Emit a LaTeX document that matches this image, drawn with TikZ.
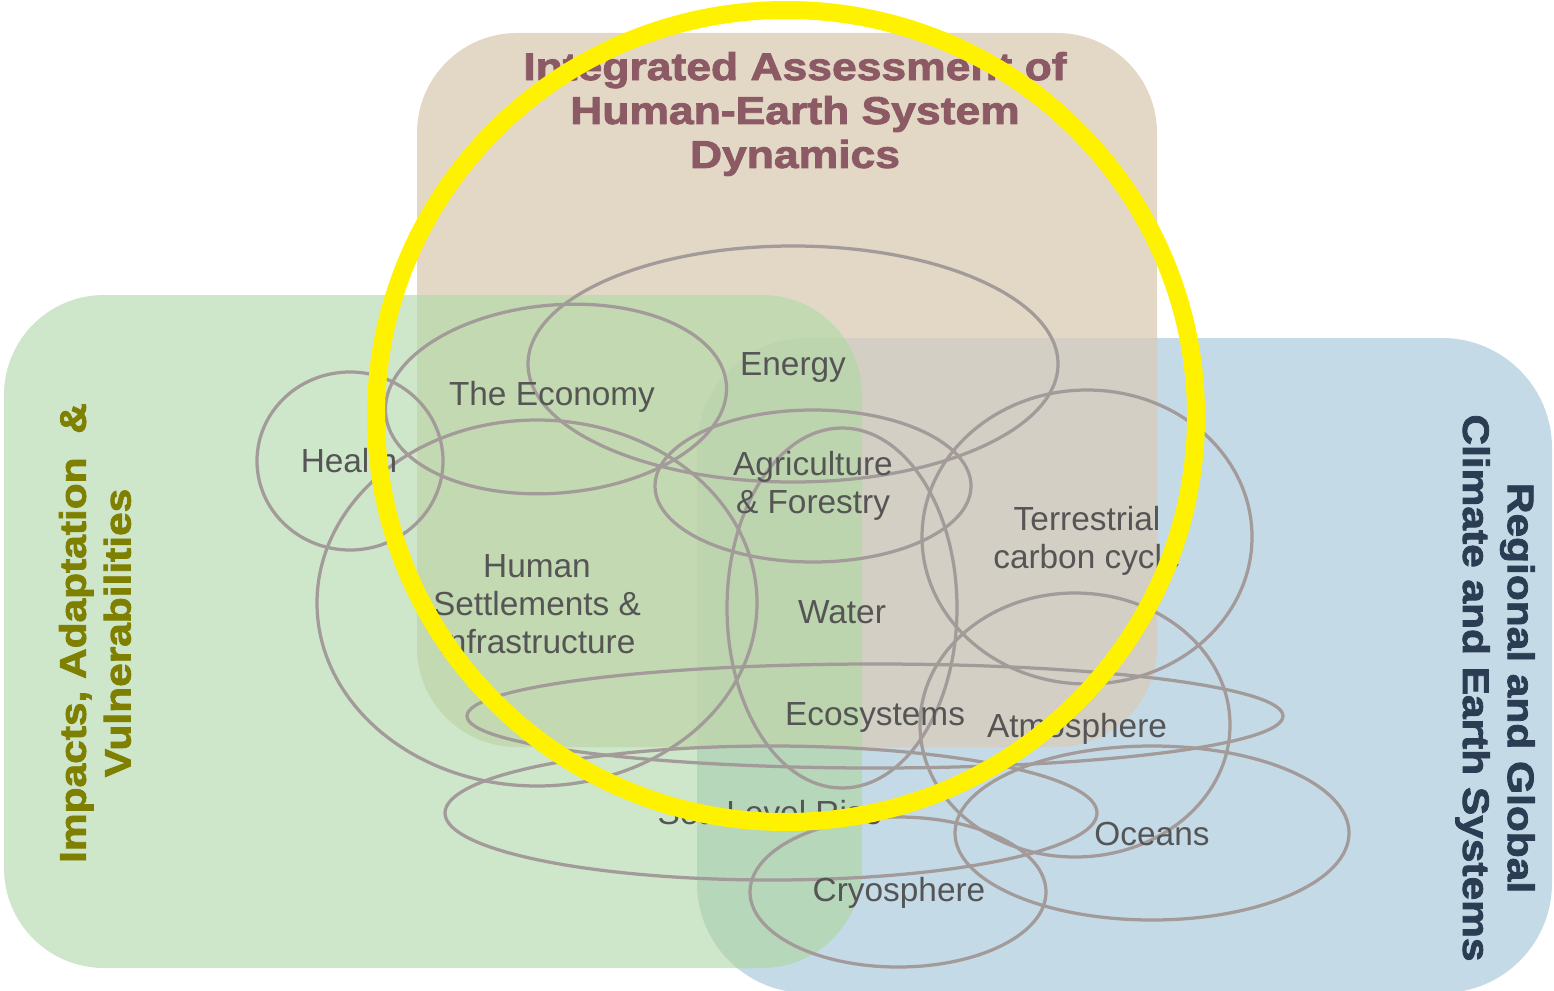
\documentclass[tikz,border=0pt]{standalone}
\usepackage{fontspec}
\setmainfont{Liberation Sans}
\newfontfamily\headfont[FakeStretch=1.15, FakeBold=2.2]{Liberation Sans Bold}
\usetikzlibrary{positioning}
\definecolor{tanbg}{HTML}{E3D7C5}
\definecolor{greenbg}{HTML}{CEE6CA}
\definecolor{bluebg}{HTML}{C4DAE7}
\definecolor{tangreen}{HTML}{C3D9B1}
\definecolor{tanblue}{HTML}{D3CFC4}
\definecolor{greenblue}{HTML}{B6D7BA}
\definecolor{allbg}{HTML}{BDD5AF}
\definecolor{ringgray}{HTML}{A39B99}
\definecolor{labelgray}{HTML}{555555}
\definecolor{iamred}{HTML}{8C5A64}
\definecolor{iavolive}{HTML}{7F7F00}
\definecolor{rgcnavy}{HTML}{2B3D52}
\tikzset{
  ring/.style={draw=ringgray, line width=0.065cm},
  topic/.style={text=labelgray, font=\fontsize{19}{21.6}\selectfont, align=center, inner sep=0pt},
  head/.style={font=\headfont\fontsize{21}{25.5}\selectfont, align=center, inner sep=0pt}
}
\begin{document}
\begin{tikzpicture}[x=0.02cm, y=-0.02cm]
\useasboundingbox (0,0) rectangle (1554,990);
\fill[tanbg, rounded corners=2cm] (417,33) rectangle (1157,747);
\fill[greenbg, rounded corners=2cm] (4,295) rectangle (862,968);
\fill[bluebg, rounded corners=2.2cm] (697,338) rectangle (1552,993);
\begin{scope}
  \clip[rounded corners=2cm] (4,295) rectangle (862,968);
  \fill[greenblue, rounded corners=2.2cm] (697,338) rectangle (1552,993);
\end{scope}
\begin{scope}
  \clip[rounded corners=2cm] (417,33) rectangle (1157,747);
  \fill[tangreen, rounded corners=2cm] (4,295) rectangle (862,968);
  \fill[tanblue, rounded corners=2.2cm] (697,338) rectangle (1552,993);
  \clip[rounded corners=2cm] (4,295) rectangle (862,968);
  \fill[allbg, rounded corners=2.2cm] (697,338) rectangle (1552,993);
\end{scope}

\node[head, text=iamred, font=\headfont\fontsize{22}{25}\selectfont] (iam) at (795,114) {Integrated Assessment of\\Human-Earth System\\Dynamics};
\node[head, text=iavolive, rotate=90] (iav) at (95,633) {Impacts, Adaptation\ \ \&\\Vulnerabilities};
\node[head, text=rgcnavy, rotate=-90] (rgc) at (1495,688) {Regional and Global\\Climate and Earth Systems};

\draw[ring] (350,461) ellipse (93 and 89);
\draw[ring, rotate around={5:(556,399)}] (556,399) ellipse (171 and 94);
\draw[ring] (793,364) ellipse (265 and 118);
\draw[ring] (813,486) ellipse (158 and 76);
\draw[ring] (537,603) ellipse (220 and 183);
\draw[ring] (842,608) ellipse (115 and 180);
\draw[ring] (1087,537) ellipse (165 and 147);
\draw[ring] (875,716) ellipse (408 and 52);
\draw[ring] (771,813) ellipse (326 and 67);
\draw[ring] (1075,725) ellipse (155 and 132);
\draw[ring] (1152,833) ellipse (197 and 87);
\draw[ring] (898,892) ellipse (148 and 75);

\node[topic] (health) at (349,461) {Health};
\node[topic] (economy) at (552,397) {The Economy};
\node[topic] (energy) at (793,367) {Energy};
\node[topic] (agri) at (813,486) {Agriculture\\\& Forestry};
\node[topic] (human) at (537,604) {Human\\Settlements \&\\Infrastructure};
\node[topic] (water) at (842,612) {Water};
\node[topic] (terr) at (1087,541) {Terrestrial\\carbon cycle};
\node[topic] (eco) at (875,717) {Ecosystems};
\node[topic] (atmo) at (1077,729) {Atmosphere};
\node[topic] (slr) at (770,813) {Sea Level Rise};
\node[topic] (oceans) at (1152,834) {Oceans};
\node[topic] (cryo) at (899,893) {Cryosphere};

\draw[yellow, line width=0.36cm] (786,416) ellipse (410 and 406);
\end{tikzpicture}
\end{document}
